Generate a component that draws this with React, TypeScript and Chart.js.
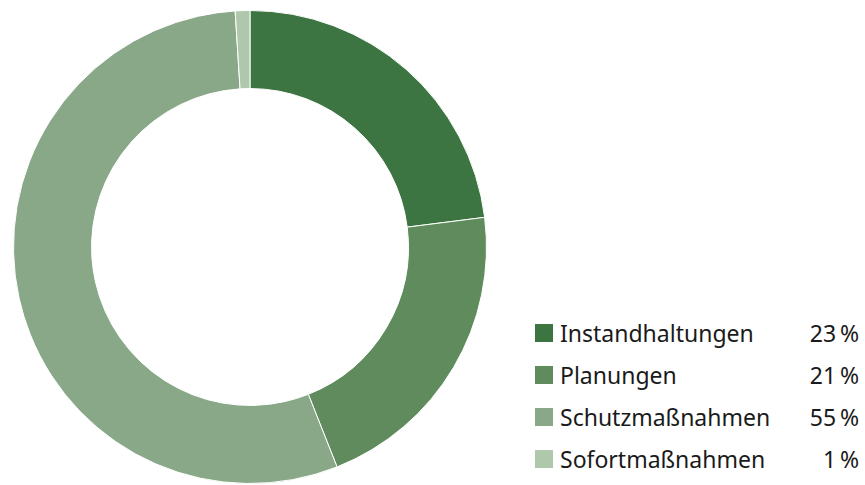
import React, { useEffect, useRef } from "react";
import { Chart, registerables } from "chart.js";

Chart.register(...registerables);

const categories = ["Instandhaltungen", "Planungen", "Schutzmaßnahmen", "Sofortmaßnahmen"];
const values = [23, 21, 55, 1];
const percentLabels = ["23\u2009%", "21\u2009%", "55\u2009%", "1\u2009%"];
const colors = ["#3d7542", "#5f8b5d", "#88a887", "#afc8ac"];

export default function App() {
  const canvasRef = useRef<HTMLCanvasElement | null>(null);

  useEffect(() => {
    document.body.style.margin = "0";
    const ctx = canvasRef.current!;
    const chart = new Chart(ctx, {
      type: "doughnut",
      data: {
        labels: categories,
        datasets: [
          {
            data: values,
            backgroundColor: colors,
            borderColor: "#ffffff",
            borderWidth: 1,
          },
        ],
      },
      options: {
        responsive: false,
        animation: false,
        cutout: "67%",
        layout: { padding: { top: 10, bottom: 1, left: 0, right: 0 } },
        plugins: {
          legend: { display: false },
          tooltip: { enabled: false },
        },
      },
    });
    return () => chart.destroy();
  }, []);

  return (
    <div style={{ position: "relative", width: 865, height: 485, background: "#fff" }}>
      <canvas ref={canvasRef} width={500} height={485} style={{ position: "absolute", left: 0, top: 0 }} />
      <div style={{ position: "absolute", left: 535, top: 312, width: 324, fontFamily: "'Noto Sans', sans-serif", fontSize: 23, color: "#1a1a1a" }}>
        {categories.map((c, i) => (
          <div key={c} style={{ display: "flex", alignItems: "center", height: 42 }}>
            <span style={{ width: 18, height: 18, background: colors[i], display: "inline-block", marginRight: 7 }} />
            <span style={{ flex: 1 }}>{c}</span>
            <span>{percentLabels[i]}</span>
          </div>
        ))}
      </div>
    </div>
  );
}
